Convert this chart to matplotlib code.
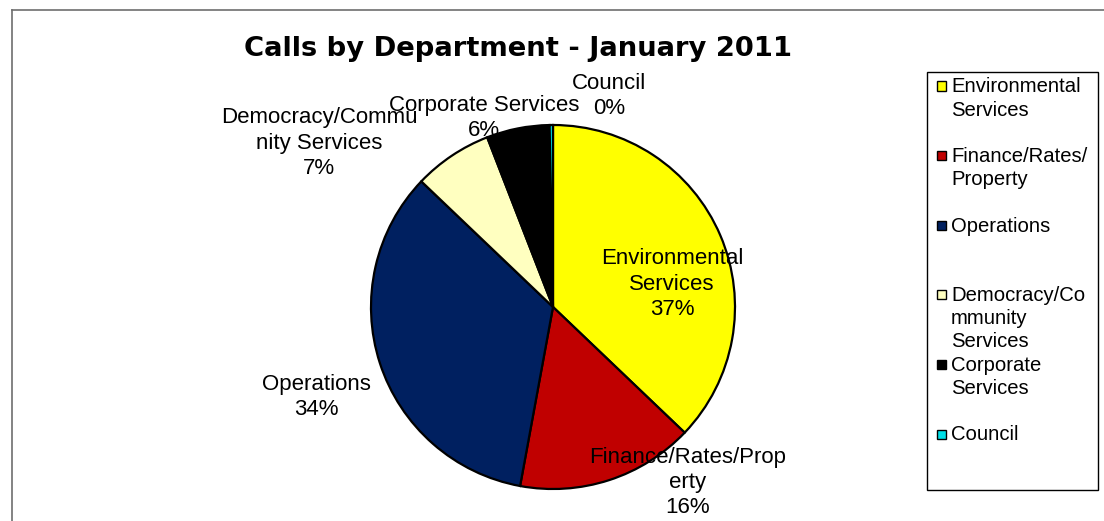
import matplotlib.pyplot as plt
from matplotlib.patches import Rectangle
from matplotlib.lines import Line2D

# Data
departments = ['Environmental Services', 'Finance/Rates/Property', 'Operations',
               'Democracy/Community Services', 'Corporate Services', 'Council']
calls = [372, 158, 343, 70, 56, 3]
colors = ['#FFFF00', '#C00000', '#002060', '#FFFFC0', '#000000', '#00E0E8']

# wrapped text as in the original chart
pie_names = ['Environmental\nServices', 'Finance/Rates/Prop\nerty', 'Operations',
             'Democracy/Commu\nnity Services', 'Corporate Services', 'Council']
legend_names = ['Environmental\nServices', 'Finance/Rates/\nProperty', 'Operations',
                'Democracy/Co\nmmunity\nServices', 'Corporate\nServices', 'Council']

# label centres in pie data units (radius = 1)
label_pos = [(0.655, 0.125), (0.74, -0.965), (-1.30, -0.495),
             (-1.285, 0.90), (-0.38, 1.04), (0.31, 1.16)]

W, H = 1104, 521
fig = plt.figure(figsize=(W / 100, H / 100), dpi=100)

# pie: centre (553, 307) px, radius 182 px
cx, cy, r = 553, 307, 182
ax = fig.add_axes([(cx - r) / W, (H - cy - r) / H, 2 * r / W, 2 * r / H])
wedges, _ = ax.pie(calls, colors=colors, startangle=90, counterclock=False,
                   wedgeprops=dict(edgecolor='black', linewidth=1.6))
ax.set_xlim(-1, 1)
ax.set_ylim(-1, 1)
ax.set_aspect('equal')
ax.axis('off')

total = sum(calls)
for name, v, (x, y) in zip(pie_names, calls, label_pos):
    ax.text(x, y, '%s\n%d%%' % (name, round(100 * v / total)),
            ha='center', va='center', fontsize=16, family='Liberation Sans',
            linespacing=1.27, clip_on=False)

fig.text(518 / W, 1 - 49 / H, 'Calls by Department - January 2011',
         ha='center', va='center', fontsize=19.7, fontweight='bold',
         family='DejaVu Sans')

# outer frame (top and left edges visible)
fig.add_artist(Line2D([11.5 / W, 1], [1 - 9.5 / H] * 2, color='#6e6e6e', lw=1.2))
fig.add_artist(Line2D([11.5 / W] * 2, [0, 1 - 9.5 / H], color='#6e6e6e', lw=1.2))

# legend box
fig.add_artist(Rectangle((927 / W, 1 - 490 / H), 171 / W, 418 / H,
                         transform=fig.transFigure, fill=False,
                         edgecolor='black', lw=1))
for i, (name, c) in enumerate(zip(legend_names, colors)):
    ytop = 86 + i * 69.6
    fig.add_artist(Rectangle((937 / W, 1 - (ytop + 4.5) / H), 9 / W, 9 / H,
                             transform=fig.transFigure, facecolor=c,
                             edgecolor='black', lw=1))
    fig.text(951 / W, 1 - (ytop - 8.5) / H, name, ha='left', va='top',
             fontsize=14.6, family='Liberation Sans', linespacing=1.27)

fig.savefig('out.png', dpi=100)
